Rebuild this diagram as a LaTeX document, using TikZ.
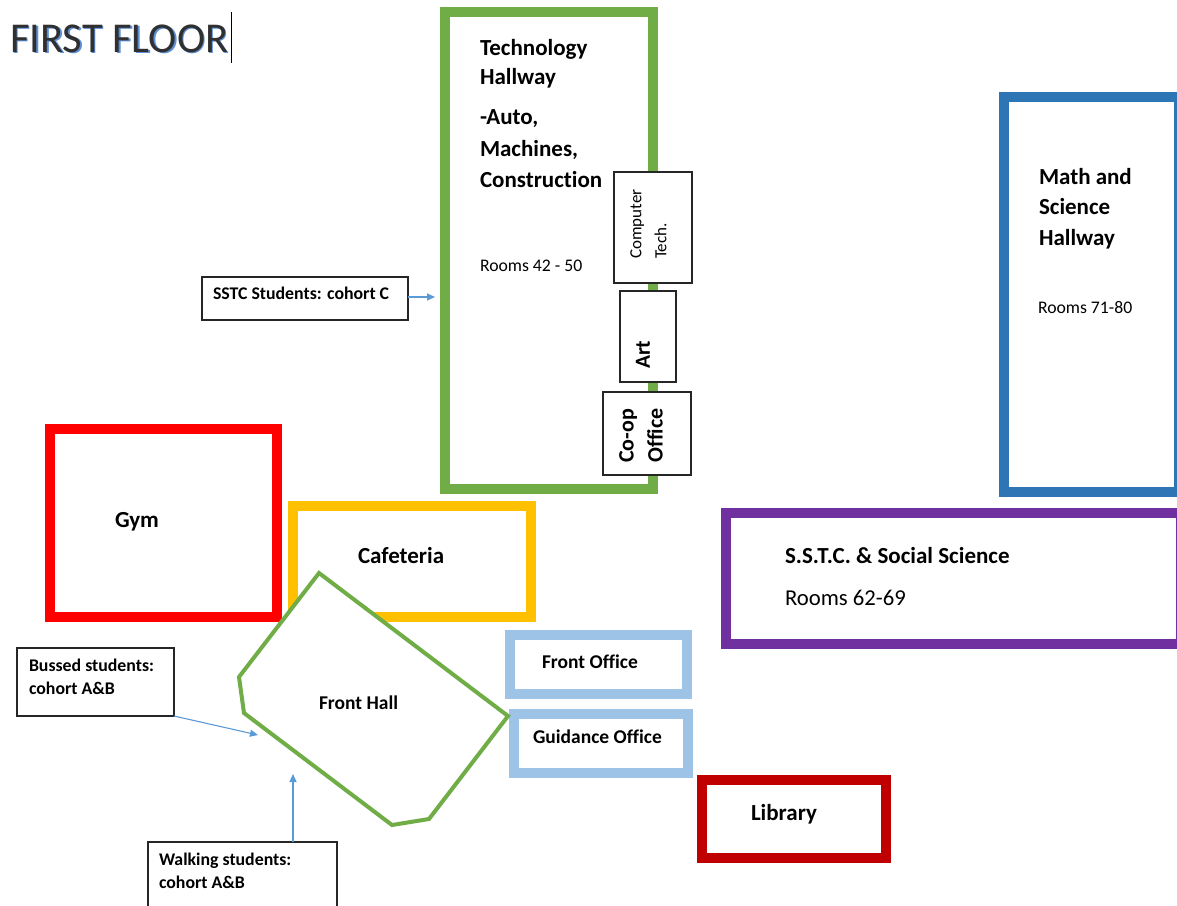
\documentclass[tikz,border=0pt]{standalone}
\usepackage{fontspec}
\setmainfont{Carlito}[Ligatures=NoCommon]
\usetikzlibrary{arrows.meta}
\definecolor{cgreen}{HTML}{70AD47}
\definecolor{cblue}{HTML}{2E75B6}
\definecolor{cred}{HTML}{FF0000}
\definecolor{cyellow}{HTML}{FFC000}
\definecolor{cpurple}{HTML}{7030A0}
\definecolor{clblue}{HTML}{9DC3E6}
\definecolor{cdred}{HTML}{C00000}
\definecolor{carrow}{HTML}{5B9BD5}
\definecolor{ctitle}{HTML}{303030}
\definecolor{cshadow}{HTML}{5B8FD8}
\tikzset{
  room/.style={draw=#1, line width=10pt, inner sep=0pt, outer sep=0pt},
  notebox/.style={draw=black!85, line width=1.2pt, fill=white, inner sep=0pt, outer sep=0pt},
  lbl/.style={inner sep=0pt, outer sep=0pt, anchor=base west, font=\fontsize{23}{27}\selectfont\bfseries},
  sml/.style={inner sep=0pt, outer sep=0pt, anchor=base west, font=\fontsize{17.7}{21}\selectfont},
  offl/.style={inner sep=0pt, outer sep=0pt, anchor=base west, font=\fontsize{19.5}{23}\selectfont\bfseries},
  notel/.style={inner sep=0pt, outer sep=0pt, anchor=base west, font=\fontsize{17.8}{23}\selectfont\bfseries},
  flow/.style={draw=carrow, line width=1.1pt, -{Triangle[length=8pt,width=7pt]}},
}
\begin{document}
\begin{tikzpicture}[x=1pt,y=-1pt]
\useasboundingbox (0,0) rectangle (1177,905);
\clip (0,0) rectangle (1177,905);
\fill[white] (0,0) rectangle (1177,905);

% title
\node[inner sep=0pt, anchor=base west, text=cshadow, font=\fontsize{42.5}{46}\selectfont] (titleshadow) at (11.8,53.8) {FIRST FLOOR};
\node[inner sep=0pt, anchor=base west, text=ctitle, font=\fontsize{42.5}{46}\selectfont] (title) at (10,52) {FIRST FLOOR};
\coordinate (curtop) at (231.5,12);
\coordinate (curbot) at (231.5,63);
\draw[line width=1.4pt] (curtop) -- (curbot);

% rooms
\node[room=cgreen, minimum width=208pt, minimum height=477pt] (tech) at (549,250.5) {};
\node[room=cblue, minimum width=175pt, minimum height=395pt] (math) at (1091.5,294.5) {};
\node[room=cred, minimum width=227pt, minimum height=188pt] (gym) at (163.5,523) {};
\node[room=cyellow, minimum width=238pt, minimum height=111pt] (cafe) at (412,561.5) {};
\node[room=cpurple, minimum width=455pt, minimum height=131pt] (sstc) at (953.5,578.5) {};
\node[room=clblue, minimum width=177pt, minimum height=59pt] (fo) at (598.5,664.5) {};
\node[room=clblue, minimum width=174pt, minimum height=59pt] (go) at (601,743.5) {};
\node[room=cdred, minimum width=184pt, minimum height=78pt] (lib) at (794,819) {};

% front hall
\draw[draw=cgreen, line width=4pt, fill=white, line join=miter]
  (319,573) -- (508,716) -- (429,819) -- (392,825) -- (244,713) -- (239,677) -- cycle;
\node[offl] (fhl) at (319,709) {Front Hall};

% small boxes on tech hallway
\node[notebox, minimum width=78pt, minimum height=111pt] (comp) at (653,227.5) {};
\node[notebox, minimum width=56pt, minimum height=91pt] (art) at (648,336.5) {};
\node[notebox, minimum width=88pt, minimum height=83pt] (coop) at (647,433.5) {};
\node[inner sep=0pt, rotate=90, anchor=west, align=left, font=\fontsize{17}{25}\selectfont] (compl) at (648.5,259) {Computer\\Tech.};
\node[inner sep=0pt, rotate=90, anchor=west, font=\fontsize{21.5}{25}\selectfont\bfseries] (artl) at (643,369) {Art};
\node[inner sep=0pt, rotate=90, anchor=west, align=left, font=\fontsize{22}{29}\selectfont\bfseries] (coopl) at (641,463) {Co-op\\Office};

% tech hallway text
\node[lbl] (t1) at (480,55) {Technology};
\node[lbl] (t2) at (480,84) {Hallway};
\node[lbl] (t3) at (480,124) {-Auto,};
\node[lbl] (t4) at (480,156) {Machines,};
\node[lbl] (t5) at (480,187) {Construction};
\node[sml] (t6) at (480,271) {Rooms 42 - 50};

% math
\node[lbl] (m1) at (1039,184) {Math and};
\node[lbl] (m2) at (1039,214) {Science};
\node[lbl] (m3) at (1039,245) {Hallway};
\node[sml] (m4) at (1038,313) {Rooms 71-80};

% other labels
\node[lbl] (gyml) at (115,527) {Gym};
\node[lbl] (cafel) at (358,563) {Cafeteria};
\node[lbl] (sstcl) at (785,563) {S.S.T.C. \& Social Science};
\node[sml, font=\fontsize{22.7}{26}\selectfont] (sstcr) at (785,605) {Rooms 62-69};
\node[offl] (fol) at (542,668) {Front Office};
\node[offl] (gol) at (533,743) {Guidance Office};
\node[lbl] (libl) at (751,820) {Library};

% notes
\node[notebox, minimum width=206pt, minimum height=43pt] (n1) at (305,298.5) {};
\node[notel] (n1l) at (213,299) {SSTC Students: cohort C};
\node[notebox, minimum width=157pt, minimum height=68pt] (n2) at (95.5,682) {};
\node[notel, align=left] (n2l) at (29,694) {Bussed students:\\cohort A\&B};
\node[notebox, minimum width=189pt, minimum height=90pt] (n3) at (242.5,887) {};
\node[notel, align=left] (n3l) at (159,888) {Walking students:\\cohort A\&B};

% arrows
\coordinate (a1) at (435,297);
\coordinate (a2) at (258,735);
\coordinate (a3) at (293,774);
\draw[flow] (n1.east |- a1) -- (a1);
\draw[flow] (n2.south east) -- (a2);
\draw[flow] (a3 |- n3.north) -- (a3);
\end{tikzpicture}
\end{document}
